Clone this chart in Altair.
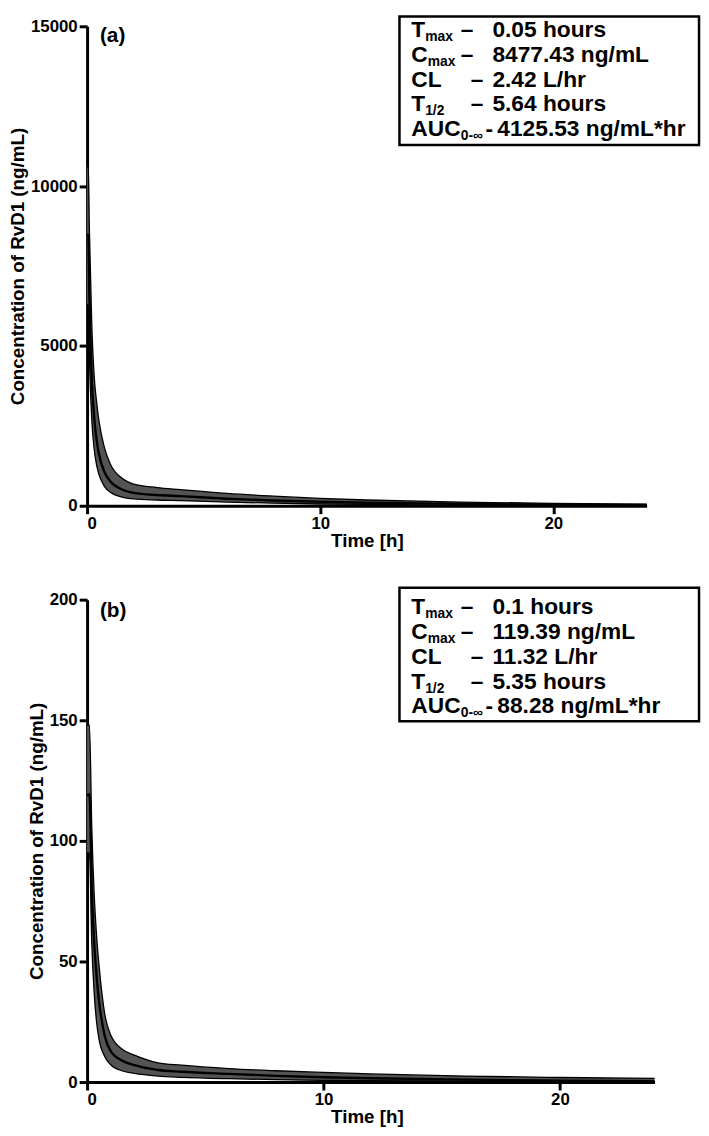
import altair as alt
import pandas as pd

FONT = "Liberation Sans"

# ---------------- data ----------------
time_h = [0, 0.05, 0.1, 0.2, 0.3, 0.4, 0.5, 0.75, 1, 1.5, 2, 3, 4, 6, 8, 10, 12, 16, 20, 24]

mean_a = [8477, 8477, 6500, 4000, 2800, 2100, 1650, 1050, 760, 510, 405, 335, 300, 220, 165, 125, 95, 57, 35, 22]
upper_a = [10600, 10600, 8600, 5700, 4100, 3300, 2700, 1800, 1300, 860, 680, 570, 505, 385, 300, 230, 180, 115, 75, 50]
lower_a = [6300, 6300, 4600, 2700, 1800, 1300, 1000, 600, 420, 270, 215, 180, 160, 115, 80, 55, 40, 22, 13, 8]

mean_b = [119, 119, 119.4, 80, 58, 44, 34, 19, 12.8, 8.8, 7.0, 5.0, 4.3, 3.4, 2.6, 2.0, 1.6, 1.0, 0.6, 0.4]
upper_b = [148, 148, 148, 105, 78, 61, 49, 28, 19.5, 13.5, 11.2, 8.0, 7.0, 5.6, 4.7, 4.0, 3.4, 2.5, 1.9, 1.5]
lower_b = [95, 95, 95, 57, 37, 25, 18, 10.5, 7.2, 4.6, 3.6, 2.5, 2.0, 1.4, 1.0, 0.7, 0.55, 0.35, 0.25, 0.2]

x_ticks = [0, 10, 20]
y_ticks_a = [0, 5000, 10000, 15000]
y_ticks_b = [0, 50, 100, 150, 200]

stats_a = [("T", "max", "–", "0.05 hours"),
           ("C", "max", "–", "8477.43 ng/mL"),
           ("CL", "", "–", "2.42 L/hr"),
           ("T", "1/2", "–", "5.64 hours"),
           ("AUC", "0-∞", "-", "4125.53 ng/mL*hr")]
stats_b = [("T", "max", "–", "0.1 hours"),
           ("C", "max", "–", "119.39 ng/mL"),
           ("CL", "", "–", "11.32 L/hr"),
           ("T", "1/2", "–", "5.35 hours"),
           ("AUC", "0-∞", "-", "88.28 ng/mL*hr")]

# ---------------- layout / style ----------------
SUB_DX = {"T": 14, "C": 16.5, "CL": 0, "AUC": 50}
DASH_X = [378, 378, 388, 388, 403]
VAL_X = [410, 410, 410, 410, 415]
MAIN_X = 328
ROW_STEP = 25
BIG = 23
SMALL = 14
SUB_DY = 4


def txt(s, x, y, size, baseline="alphabetic", align="left"):
    return alt.Chart(pd.DataFrame({"s": [s]})).mark_text(
        align=align, baseline=baseline, fontSize=size, fontWeight="bold",
        font=FONT, color="black"
    ).encode(text="s:N", x=alt.value(x), y=alt.value(y))


def panel(mean, upper, lower, ymax, yticks, w, h, tag, stats, box_top, box_bot, row0, tag_y):
    df = pd.DataFrame({"t": time_h, "mean": mean, "upper": upper, "lower": lower})
    xdef = alt.X(
        "t:Q",
        scale=alt.Scale(domain=[0, 24], nice=False, zero=True),
        axis=alt.Axis(values=x_ticks, title="Time [h]", titleX=283, titleY=26,
                      titleBaseline="top", titleAlign="center"),
    )

    def ydef(field):
        return alt.Y(
            field,
            scale=alt.Scale(domain=[0, ymax], nice=False),
            axis=alt.Axis(values=yticks, format="d", title="Concentration of RvD1 (ng/mL)"),
        )

    base = alt.Chart(df)
    area = base.mark_area(color="#545454", opacity=1, interpolate="monotone").encode(
        x=xdef, y=ydef("upper:Q"), y2="lower:Q")
    up = base.mark_line(color="black", strokeWidth=1.3, interpolate="monotone").encode(
        x=xdef, y=ydef("upper:Q"))
    lo = base.mark_line(color="black", strokeWidth=1.3, interpolate="monotone").encode(
        x=xdef, y=ydef("lower:Q"))
    mn = base.mark_line(color="black", strokeWidth=2.4, interpolate="monotone").encode(
        x=xdef, y=ydef("mean:Q"))

    box = alt.Chart(pd.DataFrame({"b": [0]})).mark_rect(
        fill="white", stroke="black", strokeWidth=2.5
    ).encode(x=alt.value(316), x2=alt.value(619), y=alt.value(box_top), y2=alt.value(box_bot))

    layers = [area, up, lo, mn, box, txt(tag, 13, tag_y, 21, baseline="middle")]
    for i, (main, sub, dash, val) in enumerate(stats):
        yb = row0 + i * ROW_STEP
        layers.append(txt(main, MAIN_X, yb, BIG))
        if sub:
            layers.append(txt(sub, MAIN_X + SUB_DX[main], yb + SUB_DY, SMALL))
        layers.append(txt(dash, DASH_X[i], yb, BIG))
        layers.append(txt(val, VAL_X[i], yb, BIG))
    return alt.layer(*layers).properties(width=w, height=h)


pa = panel(mean_a, upper_a, lower_a, 15000, y_ticks_a, 566, 485, "(a)", stats_a,
           -10, 120, 11, 10)
pb = panel(mean_b, upper_b, lower_b, 200, y_ticks_b, 574, 488, "(b)", stats_b,
           -12, 123, 15, 12)

chart = alt.vconcat(pa, pb, spacing=36).properties(
    padding={"left": 0, "top": 0, "right": 0, "bottom": 0}
).configure_axis(
    grid=False,
    domainColor="black", domainWidth=3,
    tickColor="black", tickWidth=3, tickSize=8,
    labelFont=FONT, labelFontSize=17, labelFontWeight="bold", labelColor="black",
    labelPadding=2,
    titleFont=FONT, titleFontSize=19, titleFontWeight="bold", titleColor="black",
    titlePadding=3,
).configure_view(stroke=None)

chart.save("out.html", embed_options={"renderer": "svg", "actions": False})
